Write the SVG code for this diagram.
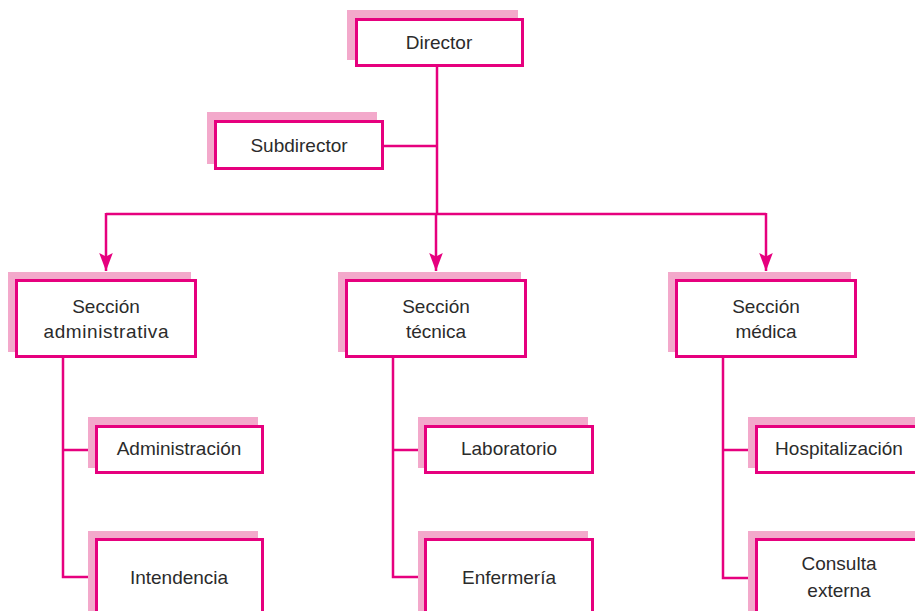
<svg xmlns="http://www.w3.org/2000/svg" width="915" height="611" viewBox="0 0 915 611">
<style>
  .sh { fill: #f3a9cb; stroke: none; }
  .bx { fill: #ffffff; stroke: #e6007e; stroke-width: 3; }
  .ln { fill: none; stroke: #e6007e; stroke-width: 2.5; }
  .tx { font-family: "Liberation Sans", Arial, sans-serif; font-size: 19px; fill: #2b2b2b; text-anchor: middle; }
</style>
<defs>
  <marker id="arr" markerUnits="userSpaceOnUse" markerWidth="20" markerHeight="16" viewBox="-19 -8 20 16" refX="0" refY="0" orient="auto">
    <path d="M0,0 L-18,-6.8 L-14.5,0 L-18,6.8 Z" fill="#e6007e"/>
  </marker>
</defs>
<rect width="915" height="611" fill="#ffffff"/>
<g id="connectors">
  <path class="ln" d="M437,67 V214"/>
  <path class="ln" d="M384,146 H437"/>
  <path class="ln" d="M106,214 H766"/>
  <path class="ln" d="M106,213 V271" marker-end="url(#arr)"/>
  <path class="ln" d="M436,214 V271" marker-end="url(#arr)"/>
  <path class="ln" d="M766,213 V271" marker-end="url(#arr)"/>
  <path class="ln" d="M63,358 V577 H95 M63,450 H95"/>
  <path class="ln" d="M393,358 V577 H424 M393,450 H424"/>
  <path class="ln" d="M723,358 V578 H755 M723,450 H755"/>
</g>
<g id="director">
  <rect class="sh" x="347" y="10" width="171" height="50"/>
  <rect class="bx" x="356.5" y="19.5" width="166" height="46"/>
  <text class="tx" x="439" y="49">Director</text>
</g>
<g id="subdirector">
  <rect class="sh" x="207" y="112" width="170" height="52"/>
  <rect class="bx" x="215.5" y="121.5" width="167" height="47"/>
  <text class="tx" x="299" y="152">Subdirector</text>
</g>
<g id="seccion-administrativa">
  <rect class="sh" x="8" y="272" width="183" height="80"/>
  <rect class="bx" x="16.5" y="280.5" width="179" height="76"/>
  <text class="tx" x="106" y="313">Sección</text>
  <text class="tx" x="106" y="338" textLength="125">administrativa</text>
</g>
<g id="seccion-tecnica">
  <rect class="sh" x="338" y="272" width="183" height="80"/>
  <rect class="bx" x="346.5" y="280.5" width="179" height="76"/>
  <text class="tx" x="436" y="313">Sección</text>
  <text class="tx" x="436" y="338">técnica</text>
</g>
<g id="seccion-medica">
  <rect class="sh" x="668" y="272" width="183" height="80"/>
  <rect class="bx" x="676.5" y="280.5" width="179" height="76"/>
  <text class="tx" x="766" y="313">Sección</text>
  <text class="tx" x="766" y="338">médica</text>
</g>
<g id="administracion">
  <rect class="sh" x="88" y="417" width="170" height="51"/>
  <rect class="bx" x="96.5" y="426.5" width="166" height="46"/>
  <text class="tx" x="179" y="455">Administración</text>
</g>
<g id="intendencia">
  <rect class="sh" x="88" y="531" width="170" height="80"/>
  <rect class="bx" x="96.5" y="539.5" width="166" height="80"/>
  <text class="tx" x="179" y="584">Intendencia</text>
</g>
<g id="laboratorio">
  <rect class="sh" x="418" y="417" width="170" height="51"/>
  <rect class="bx" x="425.5" y="426.5" width="167" height="46"/>
  <text class="tx" x="509" y="455">Laboratorio</text>
</g>
<g id="enfermeria">
  <rect class="sh" x="418" y="531" width="170" height="80"/>
  <rect class="bx" x="425.5" y="539.5" width="167" height="80"/>
  <text class="tx" x="509" y="584">Enfermería</text>
</g>
<g id="hospitalizacion">
  <rect class="sh" x="748" y="417" width="170" height="51"/>
  <rect class="bx" x="756.5" y="426.5" width="167" height="46"/>
  <text class="tx" x="839" y="455">Hospitalización</text>
</g>
<g id="consulta-externa">
  <rect class="sh" x="748" y="531" width="170" height="80"/>
  <rect class="bx" x="756.5" y="539.5" width="167" height="80"/>
  <text class="tx" x="839" y="570">Consulta</text>
  <text class="tx" x="839" y="597">externa</text>
</g>
</svg>
